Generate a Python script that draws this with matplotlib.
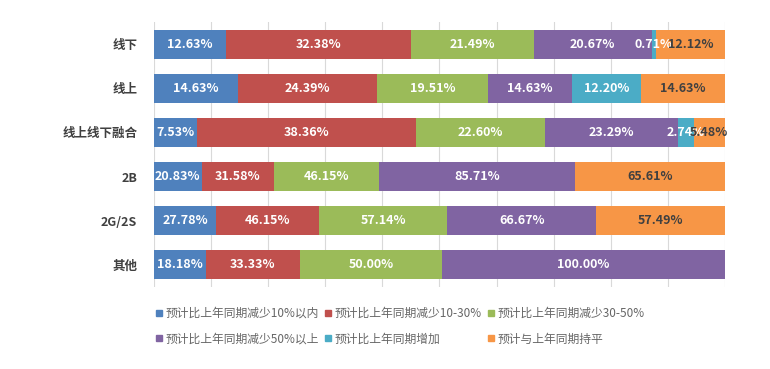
import numpy as np
import matplotlib
matplotlib.use("Agg")
import matplotlib.pyplot as plt
from matplotlib.lines import Line2D

plt.rcParams['font.family'] = ['Noto Sans CJK SC', 'DejaVu Sans']

categories = ['线下', '线上', '线上线下融合', '2B', '2G/2S', '其他']
series_names = ['预计比上年同期减少10%以内', '预计比上年同期减少10-30%', '预计比上年同期减少30-50%',
                '预计比上年同期减少50%以上', '预计比上年同期增加', '预计与上年同期持平']
dec_10 = [12.63, 14.63, 7.53, 20.83, 27.78, 18.18]
dec_10_30 = [32.38, 24.39, 38.36, 31.58, 46.15, 33.33]
dec_30_50 = [21.49, 19.51, 22.60, 46.15, 57.14, 50.00]
dec_50 = [20.67, 14.63, 23.29, 85.71, 66.67, 100.00]
increase = [0.71, 12.20, 2.74, None, None, None]
flat = [12.12, 14.63, 5.48, 65.61, 57.49, None]

colors = ['#4F81BD', '#C0504D', '#9BBB59', '#8064A2', '#4BACC6', '#F79646']
label_colors = ['white', 'white', 'white', 'white', 'white', '#404040']

series = [dec_10, dec_10_30, dec_30_50, dec_50, increase, flat]
vals = np.array([[np.nan if v is None else v for v in s] for s in series])  # (6 series, 6 cats)
totals = np.nansum(vals, axis=0)
share = np.nan_to_num(vals) / totals

fig = plt.figure(figsize=(7.7, 3.69), dpi=100)
ax = fig.add_axes([154/770, 1-287/369, (725-154)/770, (287-22)/369])

y = np.arange(len(categories))
left = np.zeros(len(categories))
for i in range(len(series)):
    ax.barh(y, share[i], left=left, height=0.66, color=colors[i], zorder=2)
    left = left + share[i]

left = np.zeros(len(categories))
for i in range(len(series)):
    for j in range(len(categories)):
        v = vals[i, j]
        if not np.isnan(v):
            ax.text(left[j] + share[i, j] / 2, y[j], f'{v:.2f}%', ha='center', va='center',
                    color=label_colors[i], fontsize=9, fontweight='bold', zorder=3)
    left = left + share[i]

ax.set_xlim(0, 1)
ax.set_ylim(len(categories) - 0.5, -0.5)
ax.set_xticks(np.linspace(0, 1, 11))
ax.set_xticklabels([])
ax.tick_params(axis='x', length=0)
ax.tick_params(axis='y', length=0, pad=12)
ax.set_yticks(y)
ax.set_yticklabels(categories, fontsize=9, fontweight='bold', color='#404040')
ax.grid(axis='x', color='#D9D9D9', linewidth=0.8, zorder=0)
ax.set_axisbelow(True)
for s in ax.spines.values():
    s.set_visible(False)

handles = [Line2D([], [], marker='s', linestyle='', color=c, markersize=5) for c in colors]
order = [0, 3, 1, 4, 2, 5]
fig.legend([handles[k] for k in order], [series_names[k] for k in order], ncol=3,
           loc='upper left', bbox_to_anchor=(155/770, 1-307/369), frameon=False,
           fontsize=8.5, labelcolor='#666666', handlelength=0.6, handletextpad=0.3,
           columnspacing=0.45, labelspacing=1.05, borderpad=0, borderaxespad=0)

fig.savefig('out.png', dpi=100)
